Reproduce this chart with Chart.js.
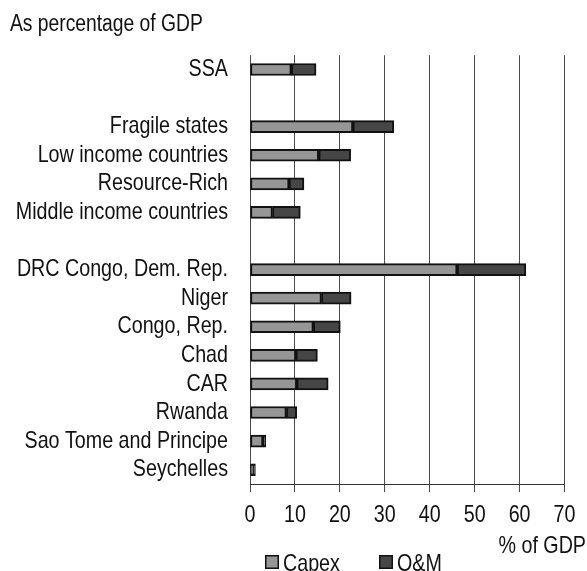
<!DOCTYPE html>
<html>
<head>
<meta charset="utf-8">
<script src="https://cdn.jsdelivr.net/npm/chart.js@4.4.1/dist/chart.umd.min.js"></script>
<style>
  html, body { margin: 0; padding: 0; background: #fff; }
</style>
</head>
<body>
<canvas id="bar-chart" width="587" height="571"></canvas>
<script>
// rows top to bottom; empty strings leave a gap between the groups
var categories = ["SSA", "", "Fragile states", "Low income countries", "Resource-Rich",
  "Middle income countries", "", "DRC Congo, Dem. Rep.", "Niger", "Congo, Rep.", "Chad",
  "CAR", "Rwanda", "Sao Tome and Principe", "Seychelles"];
var capex = [9.2, null, 22.9, 15.3, 8.7, 5.0, null, 46.1, 15.9, 14.1, 10.2, 10.4, 8.1, 2.9, 0.8];
var om    = [5.5, null, 9.1, 7.1, 3.3, 6.2, null, 15.3, 6.6, 6.0, 4.8, 7.0, 2.3, 0.6, 0.4];
var xTicks = [0, 10, 20, 30, 40, 50, 60, 70];

var FONT = "'Liberation Sans', Arial, sans-serif";
Chart.defaults.font.family = FONT;
Chart.defaults.color = "#111";

var CHART = document.getElementById("bar-chart");

// no Arial Narrow here, so squeeze every string horizontally instead
var ctx2d = CHART.getContext("2d");
var nativeFillText = ctx2d.fillText;
ctx2d.fillText = function (text, x, y, maxWidth) {
  var w = this.measureText(text).width * 0.82;
  if (maxWidth !== undefined && maxWidth < w) w = maxWidth;
  nativeFillText.call(this, text, x, y, w);
};

// legend and the axis unit are drawn by hand so they sit where we want them
var extras = {
  id: "extras",
  afterDraw: function (chart) {
    var ctx = chart.ctx;
    var x = chart.scales.x;
    ctx.save();
    ctx.fillStyle = "#111";
    ctx.font = "24px " + FONT;
    ctx.textBaseline = "alphabetic";
    ctx.textAlign = "right";
    ctx.fillText("% of GDP", chart.width - 1, 553);

    var items = [
      { ds: chart.data.datasets[0], left: x.left + 15 },
      { ds: chart.data.datasets[1], left: x.left + 129 }
    ];
    items.forEach(function (it) {
      ctx.fillStyle = it.ds.backgroundColor;
      ctx.fillRect(it.left, 555, 14, 14);
      ctx.strokeStyle = "#111";
      ctx.lineWidth = 1.5;
      ctx.strokeRect(it.left + 0.75, 555.75, 12.5, 12.5);
      ctx.fillStyle = "#111";
      ctx.textAlign = "left";
      ctx.fillText(it.ds.label, it.left + 18, 571);
    });
    ctx.restore();
  }
};

var chart = new Chart(CHART, {
  type: "bar",
  data: {
    labels: categories,
    datasets: [{
      label: "Capex",
      data: capex,
      backgroundColor: "#969696",
      borderColor: "#111",
      borderWidth: 2,
      borderSkipped: false,
      barThickness: 12
    }, {
      label: "O&M",
      data: om,
      backgroundColor: "#464646",
      borderColor: "#111",
      borderWidth: 2,
      borderSkipped: false,
      barThickness: 12
    }]
  },
  plugins: [extras],
  options: {
    indexAxis: "y",
    responsive: false,
    animation: false,
    devicePixelRatio: 1,
    layout: { padding: { left: 10, right: 22.5, top: 6, bottom: 35 } },
    plugins: {
      legend: { display: false },
      tooltip: { enabled: false },
      title: {
        display: true,
        text: "As percentage of GDP",
        align: "start",
        color: "#111",
        font: { size: 23.5, weight: "normal" },
        padding: { top: 4, bottom: 17 }
      }
    },
    scales: {
      x: {
        stacked: true,
        min: 0,
        max: 70,
        afterBuildTicks: function (scale) {
          scale.ticks = xTicks.map(function (v) { return { value: v }; });
        },
        afterFit: function (scale) { scale.height = 52; },
        grid: { color: "#4a4a4a", lineWidth: 1, tickLength: 8, drawTicks: true },
        border: { color: "#333", width: 1 },
        ticks: { color: "#111", font: { size: 24 }, padding: 8.6, maxRotation: 0 }
      },
      y: {
        stacked: true,
        afterFit: function (scale) { scale.width = 240; },
        grid: { display: false },
        border: { display: false },
        ticks: { color: "#111", font: { size: 24 }, padding: 14, autoSkip: false }
      }
    }
  }
});
</script>
</body>
</html>
